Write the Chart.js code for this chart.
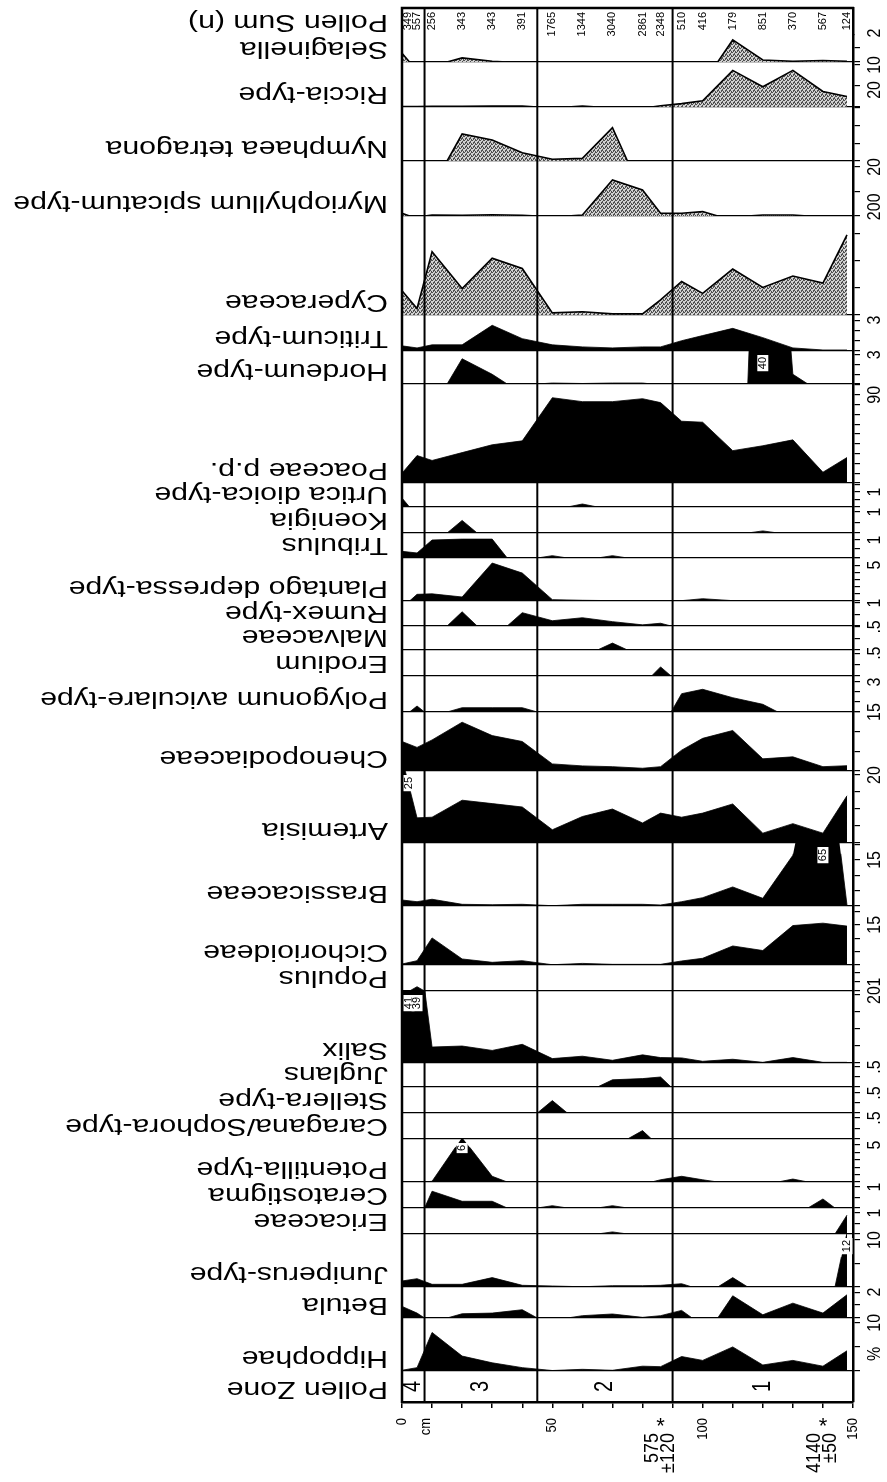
<!DOCTYPE html>
<html lang="en">
<head>
<meta charset="UTF-8">
<title>Pollen diagram</title>
<style>
  * { margin: 0; padding: 0; box-sizing: border-box; }
  body { background: #fff; width: 887px; height: 1482px; overflow: hidden; }
  #wrap { position: relative; width: 887px; height: 1482px; }
</style>
</head>
<body>
<div id="wrap"><canvas id="chart"></canvas></div>
<script src="https://cdn.jsdelivr.net/npm/chart.js@4.4.1/dist/chart.umd.min.js"></script>
<script>
// sample depths (cm) and pollen sums
const depths = [0, 5, 10, 20, 30, 40, 50, 60, 70, 80, 86, 93, 100, 110, 120, 130, 140, 148];
const pollenSums = [349, 557, 256, 343, 343, 391, 1765, 1344, 3040, 2861, 2348, 510, 416, 179, 851, 370, 567, 124];

// pollen zones
const zoneBounds = [0, 7.5, 45, 90, 150];
const zoneNames = ['4', '3', '2', '1'];

// depth axis
const depthLabels = [0, 50, 100, 150];
const datedDepths = [86, 140];
const dateTexts = [['575', '±120'], ['4140', '±50']];

// percentages, top strip to bottom strip
const selaginella   = [0.6, 0, 0, 0.28, 0.05, 0, 0, 0, 0, 0, 0, 0, 0, 1.52, 0.14, 0.05, 0.1, 0.05];
const riccia        = [0.1, 0.1, 0.15, 0.15, 0.2, 0.2, 0, 0.2, 0, 0, 0.3, 0.8, 1.5, 8.7, 4.8, 8.7, 3.7, 2.5];
const nymphaea      = [0, 0, 0, 7.6, 5.9, 2.3, 0.5, 0.75, 9.4, 0, 0, 0, 0, 0, 0, 0, 0, 0];
const myriophyllum  = [1.1, 0, 0.4, 0.3, 0.5, 0.3, 0, 0.4, 14.7, 10.6, 1.1, 1.1, 1.8, 0, 0.4, 0.4, 0, 0];
const cyperaceae    = [45, 12, 117, 49, 105, 86, 4, 6, 2, 2, 28, 62, 40, 85, 51, 72, 59, 148];
const triticum      = [0.5, 0.3, 0.6, 0.6, 2.5, 1.2, 0.6, 0.4, 0.3, 0.4, 0.4, 1.0, 1.5, 2.2, 1.3, 0.3, 0.1, 0.1];
const hordeum       = [0, 0, 0, 2.6, 1.0, 0, 0.1, 0.05, 0.1, 0.1, 0, 0, 0, 0, 40, 1, 0, 0];
const poaceae       = [10, 28, 23, 31, 39, 43, 87, 83, 83, 86, 82, 63, 62, 33, 38, 44, 11, 26];
const urtica        = [0.6, 0, 0, 0, 0, 0, 0, 0.2, 0, 0, 0, 0, 0, 0, 0, 0, 0, 0];
const koenigia      = [0, 0, 0, 0.6, 0, 0, 0, 0, 0, 0, 0, 0, 0, 0, 0.1, 0, 0, 0];
const tribulus      = [0.37, 0.28, 1.0, 1.05, 1.05, 0, 0.13, 0, 0.13, 0, 0, 0, 0, 0, 0, 0, 0, 0];
const plantago      = [0, 0.93, 1.0, 0.56, 5.3, 3.9, 0.19, 0.1, 0.05, 0.05, 0.05, 0.05, 0.32, 0.05, 0.05, 0.05, 0.05, 0.05];
const rumex         = [0, 0, 0, 0.62, 0, 0.58, 0.23, 0.36, 0.19, 0.05, 0.12, 0, 0, 0.02, 0, 0, 0, 0];
const malvaceae     = [0, 0, 0, 0, 0, 0, 0, 0, 0.15, 0, 0, 0, 0, 0, 0, 0, 0, 0];
const erodium       = [0, 0, 0, 0, 0, 0, 0, 0, 0, 0, 0.2, 0, 0, 0, 0, 0, 0, 0];
const polygonum     = [0, 0.6, 0, 0.43, 0.43, 0.43, 0, 0, 0, 0, 0, 1.83, 2.27, 1.43, 0.77, 0, 0, 0];
const chenopodiaceae= [7.5, 6.0, 7.9, 12.4, 9.0, 7.5, 1.8, 1.3, 1.1, 0.7, 1.1, 5.3, 8.3, 10.3, 3.1, 3.6, 1.1, 1.35];
const artemisia     = [25, 7.4, 7.6, 12.6, 11.6, 10.6, 3.9, 7.8, 10, 5.9, 8.8, 7.6, 8.8, 11.5, 2.9, 5.7, 2.9, 13.9];
const brassicaceae  = [1.95, 1.4, 2.2, 0.55, 0.42, 0.55, 0.1, 0.55, 0.55, 0.55, 0.33, 1.4, 2.7, 6.2, 2.5, 16.5, 65, 0.3];
const cichorioideae = [0.37, 1.6, 10.1, 2.25, 1.0, 1.6, 0.1, 0.6, 0.25, 0.25, 0.25, 1.5, 2.5, 7.1, 5.4, 14.7, 15.6, 14.5];
const populus       = [0, 0.48, 0, 0, 0, 0, 0, 0, 0, 0, 0, 0, 0, 0, 0, 0, 0, 0];
const salix         = [41, 39, 4.7, 5.0, 3.7, 5.5, 1.3, 2.0, 0.8, 2.4, 1.6, 1.5, 0.5, 1.1, 0.2, 1.6, 0.2, 0.2];
const juglans       = [0, 0, 0, 0, 0, 0, 0, 0, 0.18, 0.21, 0.25, 0, 0, 0, 0, 0, 0, 0];
const stellera      = [0, 0, 0, 0, 0, 0, 0.31, 0, 0, 0, 0, 0, 0, 0, 0, 0, 0, 0];
const caragana      = [0, 0, 0, 0, 0, 0, 0, 0, 0, 0.2, 0, 0, 0, 0, 0, 0, 0, 0];
const potentilla    = [0, 0, 0.1, 6, 0.77, 0, 0, 0, 0, 0, 0.3, 0.77, 0.3, 0, 0, 0.4, 0, 0];
const ceratostigma  = [0, 0, 0.8, 0.32, 0.32, 0, 0.11, 0, 0.11, 0, 0, 0, 0, 0, 0, 0, 0.43, 0];
const ericaceae     = [0, 0, 0, 0, 0, 0, 0, 0, 0.1, 0, 0, 0, 0, 0, 0, 0, 0, 0.9];
const juniperus     = [1.28, 1.77, 0.57, 0.57, 2.0, 0.36, 0.21, 0.05, 0.28, 0.28, 0.36, 0.7, 0, 2.0, 0, 0, 0, 12];
const betula        = [0.9, 0.38, 0, 0.33, 0.38, 0.64, 0, 0.18, 0.31, 0.05, 0.18, 0.59, 0, 1.72, 0.25, 1.15, 0.38, 1.8];
const hippophae     = [0.15, 0.7, 8.0, 3.1, 1.7, 0.7, 0.1, 0.35, 0.15, 1.0, 0.9, 3.0, 2.2, 5.0, 1.25, 2.2, 1.0, 4.2];

// strip table: name, data, strip height, axis max, tick step, scale label, clip value, stippled
const strips = [
  { name: 'Pollen Sum (n)', h: 27 },
  { name: 'Selaginella', data: selaginella, h: 27, max: 1.86, step: 1, label: [2, '2'], dots: true },
  { name: 'Riccia-type', data: riccia, h: 45, max: 10.7, step: 5, label: [10, '10'], dots: true },
  { name: 'Nymphaea tetragona', data: nymphaea, h: 54, max: 15.2, step: 5, label: [20, '20'], dots: true },
  { name: 'Myriophyllum spicatum-type', data: myriophyllum, h: 55, max: 22.4, step: 10, label: [20, '20'], dots: true },
  { name: 'Cyperaceae', data: cyperaceae, h: 99, max: 183, step: 50, label: [200, '200'], dots: true },
  { name: 'Triticum-type', data: triticum, h: 36, max: 3.5, step: 1, label: [3, '3'] },
  { name: 'Hordeum-type', data: hordeum, h: 33, max: 3.4, step: 1, label: [3, '3'] },
  { name: 'Poaceae p.p.', data: poaceae, h: 99, max: 101, step: 10, label: [90, '90'] },
  { name: 'Urtica dioica-type', data: urtica, h: 24, max: 1.6, step: 0.5, label: [1, '1'] },
  { name: 'Koenigia', data: koenigia, h: 26, max: 1.24, step: 0.5, label: [1, '1'] },
  { name: 'Tribulus', data: tribulus, h: 25, max: 1.39, step: 0.5, label: [1, '1'] },
  { name: 'Plantago depressa-type', data: plantago, h: 43, max: 6.0, step: 1, label: [5, '5'] },
  { name: 'Rumex-type', data: rumex, h: 25, max: 1.09, step: 0.5, label: [1, '1'] },
  { name: 'Malvaceae', data: malvaceae, h: 24, max: 0.52, step: 0.25, label: [0.5, '.5'] },
  { name: 'Erodium', data: erodium, h: 26, max: 0.57, step: 0.25, label: [0.5, '.5'] },
  { name: 'Polygonum aviculare-type', data: polygonum, h: 36, max: 3.6, step: 1, label: [3, '3'] },
  { name: 'Chenopodiaceae', data: chenopodiaceae, h: 59, max: 15, step: 5, label: [15, '15'] },
  { name: 'Artemisia', data: artemisia, h: 72, max: 21.2, step: 5, label: [20, '20'] },
  { name: 'Brassicaceae', data: brassicaceae, h: 63, max: 20.5, step: 5, label: [15, '15'], clip: 17 },
  { name: 'Cichorioideae', data: cichorioideae, h: 59, max: 22, step: 5, label: [15, '15'] },
  { name: 'Populus', data: populus, h: 26, max: 2.9, step: 1, label: [1, '1'] },
  { name: 'Salix', data: salix, h: 72, max: 21.2, step: 5, label: [20, '20'] },
  { name: 'Juglans', data: juglans, h: 24, max: 0.6, step: 0.25, label: [0.5, '.5'] },
  { name: 'Stellera-type', data: stellera, h: 26, max: 0.65, step: 0.25, label: [0.5, '.5'] },
  { name: 'Caragana/Sophora-type', data: caragana, h: 26, max: 0.62, step: 0.25, label: [0.5, '.5'] },
  { name: 'Potentilla-type', data: potentilla, h: 43, max: 5.8, step: 1, label: [5, '5'], clip: 4.7 },
  { name: 'Ceratostigma', data: ceratostigma, h: 26, max: 1.24, step: 0.5, label: [1, '1'] },
  { name: 'Ericaceae', data: ericaceae, h: 26, max: 1.24, step: 0.5, label: [1, '1'] },
  { name: 'Juniperus-type', data: juniperus, h: 53, max: 11.3, step: 5, label: [10, '10'], clip: 6.4 },
  { name: 'Betula', data: betula, h: 31, max: 2.4, step: 1, label: [2, '2'] },
  { name: 'Hippophae', data: hippophae, h: 53, max: 11, step: 5, label: [10, '10'] },
  { name: 'Pollen Zone', h: 31 }
];

const SX = 1.26;
const FONT = '"Liberation Sans", Arial, sans-serif';

function stipple() {
  const c = document.createElement('canvas');
  c.width = 4; c.height = 4;
  const g = c.getContext('2d');
  g.fillStyle = '#d0d0d0';
  g.fillRect(0, 0, 4, 4);
  g.fillStyle = '#505050';
  [[0, 0], [2, 1], [1, 2], [3, 3], [3, 0], [1, 3], [2, 2]].forEach(p => g.fillRect(p[0], p[1], 1, 1));
  return g.createPattern(c, 'repeat');
}

// silhouette points; a curve falls to zero half-way to an empty sample
function points(vals) {
  const pts = [];
  for (let i = 0; i < vals.length; i++) {
    if (i > 0 && (vals[i] === 0) !== (vals[i - 1] === 0)) {
      pts.push({ x: (depths[i] + depths[i - 1]) / 2, y: 0 });
    }
    pts.push({ x: depths[i], y: vals[i] });
  }
  return pts;
}

const scales = {
  x: {
    type: 'linear', min: 0, max: 150, position: 'bottom',
    border: { display: true, color: '#000', width: 2.5 },
    grid: { drawOnChartArea: false, drawTicks: true, tickLength: 6, color: '#000', lineWidth: 1.5 },
    ticks: { display: false, stepSize: 10 },
    afterFit: s => { s.height = 80; }
  }
};
const datasets = [];
const pattern = stipple();

strips.forEach((s, i) => {
  const id = 'y' + i;
  const hasData = !!s.data;
  scales[id] = {
    type: 'linear', position: 'right', stack: 'strips', stackWeight: s.h,
    min: 0, max: hasData ? s.max : 1,
    border: { display: true, color: '#000', width: 2.5 },
    grid: {
      display: hasData, drawOnChartArea: true, drawTicks: true, tickLength: 7,
      color: c => (c.tick && c.tick.value === 0) ? '#000' : 'rgba(0,0,0,0)',
      tickColor: '#000', lineWidth: 1.2
    },
    ticks: { display: false, stepSize: hasData ? s.step : 1, includeBounds: false },
    afterFit: sc => { sc.width = 34; }
  };
  if (hasData) {
    datasets.push({
      label: s.name,
      yAxisID: id,
      data: points(s.data),
      raw: s.data,
      clipAt: s.clip !== undefined ? s.clip : s.max,
      fill: 'origin',
      backgroundColor: s.dots ? pattern : '#000',
      borderColor: '#000',
      borderWidth: s.dots ? 1.6 : 0.8,
      pointRadius: 0,
      tension: 0
    });
  }
});

function text(ctx, str, x, y, angle, size, align, base, sx) {
  ctx.save();
  ctx.translate(x, y);
  ctx.scale(sx || SX, 1);
  ctx.rotate(angle);
  ctx.font = size + 'px ' + FONT;
  ctx.textAlign = align;
  ctx.textBaseline = base;
  ctx.fillStyle = '#000';
  ctx.fillText(str, 0, 0);
  ctx.restore();
}

const diagram = {
  id: 'diagram',
  beforeDatasetDraw(chart, args) {
    const ds = chart.data.datasets[args.index];
    const ys = chart.scales[ds.yAxisID];
    const a = chart.chartArea;
    const top = ys.getPixelForValue(ds.clipAt);
    chart.ctx.save();
    chart.ctx.beginPath();
    chart.ctx.rect(a.left, top, a.right - a.left, ys.bottom - top);
    chart.ctx.clip();
  },
  afterDatasetDraw(chart) {
    chart.ctx.restore();
  },
  afterDraw(chart) {
    const ctx = chart.ctx;
    const a = chart.chartArea;
    const xs = chart.scales.x;
    const up = -Math.PI / 2;

    // frame top and left
    ctx.save();
    ctx.strokeStyle = '#000';
    ctx.lineWidth = 2.5;
    ctx.beginPath();
    ctx.moveTo(a.left, a.bottom + 1);
    ctx.lineTo(a.left, a.top);
    ctx.lineTo(a.right + 1, a.top);
    ctx.stroke();
    // zone boundaries
    ctx.lineWidth = 2;
    zoneBounds.slice(1, -1).forEach(d => {
      const x = xs.getPixelForValue(d);
      ctx.beginPath();
      ctx.moveTo(x, a.top);
      ctx.lineTo(x, a.bottom);
      ctx.stroke();
    });
    ctx.restore();

    // taxon names (upside down)
    strips.forEach((s, i) => {
      const ys = chart.scales['y' + i];
      text(ctx, s.name, 388, ys.bottom - 1, Math.PI, 24, 'left', 'top');
    });

    // pollen sums
    depths.forEach((d, i) => {
      const x = Math.min(Math.max(xs.getPixelForValue(d), a.left + 6), a.right - 5);
      text(ctx, String(pollenSums[i]), x, a.top + 4, up, 11, 'right', 'middle', 1);
    });

    // zone numbers
    const zy = chart.scales['y' + (strips.length - 1)];
    zoneNames.forEach((z, i) => {
      const x = xs.getPixelForValue((zoneBounds[i] + zoneBounds[i + 1]) / 2);
      text(ctx, z, x, (zy.top + zy.bottom) / 2, up, 20, 'center', 'middle');
    });

    // depth labels
    depthLabels.forEach(d => {
      text(ctx, String(d), xs.getPixelForValue(d), a.bottom + 16, up, 13, 'right', 'middle', 1.1);
    });
    text(ctx, 'cm', xs.getPixelForValue(8), a.bottom + 16, up, 13, 'right', 'middle', 1.1);
    datedDepths.forEach((d, i) => {
      const x = xs.getPixelForValue(d);
      text(ctx, '*', x, a.bottom + 14, 0, 22, 'center', 'top', 1);
      const lines = dateTexts[i];
      lines.forEach((t, j) => {
        const off = (j - (lines.length - 1) / 2) * 16;
        text(ctx, t, x + off, a.bottom + 31, up, 18, 'right', 'middle', 1.1);
      });
    });

    // scale labels on the right
    strips.forEach((s, i) => {
      if (!s.label) return;
      const ys = chart.scales['y' + i];
      text(ctx, s.label[1], 875, ys.getPixelForValue(s.label[0]), up, 16, 'center', 'middle', 1.1);
    });
    text(ctx, '%', 875, chart.scales['y' + (strips.length - 2)].bottom - 17, up, 16, 'center', 'middle', 1.1);

    // off-scale values
    chart.data.datasets.forEach(ds => {
      const ys = chart.scales[ds.yAxisID];
      ds.raw.forEach((v, i) => {
        if (v <= ds.clipAt) return;
        const x = Math.min(Math.max(xs.getPixelForValue(depths[i]), a.left + 7), a.right - 6);
        const t = String(v);
        ctx.font = '11px ' + FONT;
        const w = ctx.measureText(t).width + 4;
        const y0 = ys.top + 4;
        ctx.fillStyle = '#fff';
        ctx.fillRect(x - 5.5, y0, 11, w);
        text(ctx, t, x, y0 + 2, up, 11, 'right', 'middle', 1);
      });
    });
  }
};

new Chart(document.getElementById('chart'), {
  type: 'line',
  data: { datasets },
  options: {
    responsive: true,
    maintainAspectRatio: false,
    animation: false,
    devicePixelRatio: 1,
    parsing: false,
    layout: { padding: { left: 402, top: 8, right: 0, bottom: 0 } },
    plugins: { legend: { display: false }, tooltip: { enabled: false } },
    scales
  },
  plugins: [diagram]
});
</script>
</body>
</html>
